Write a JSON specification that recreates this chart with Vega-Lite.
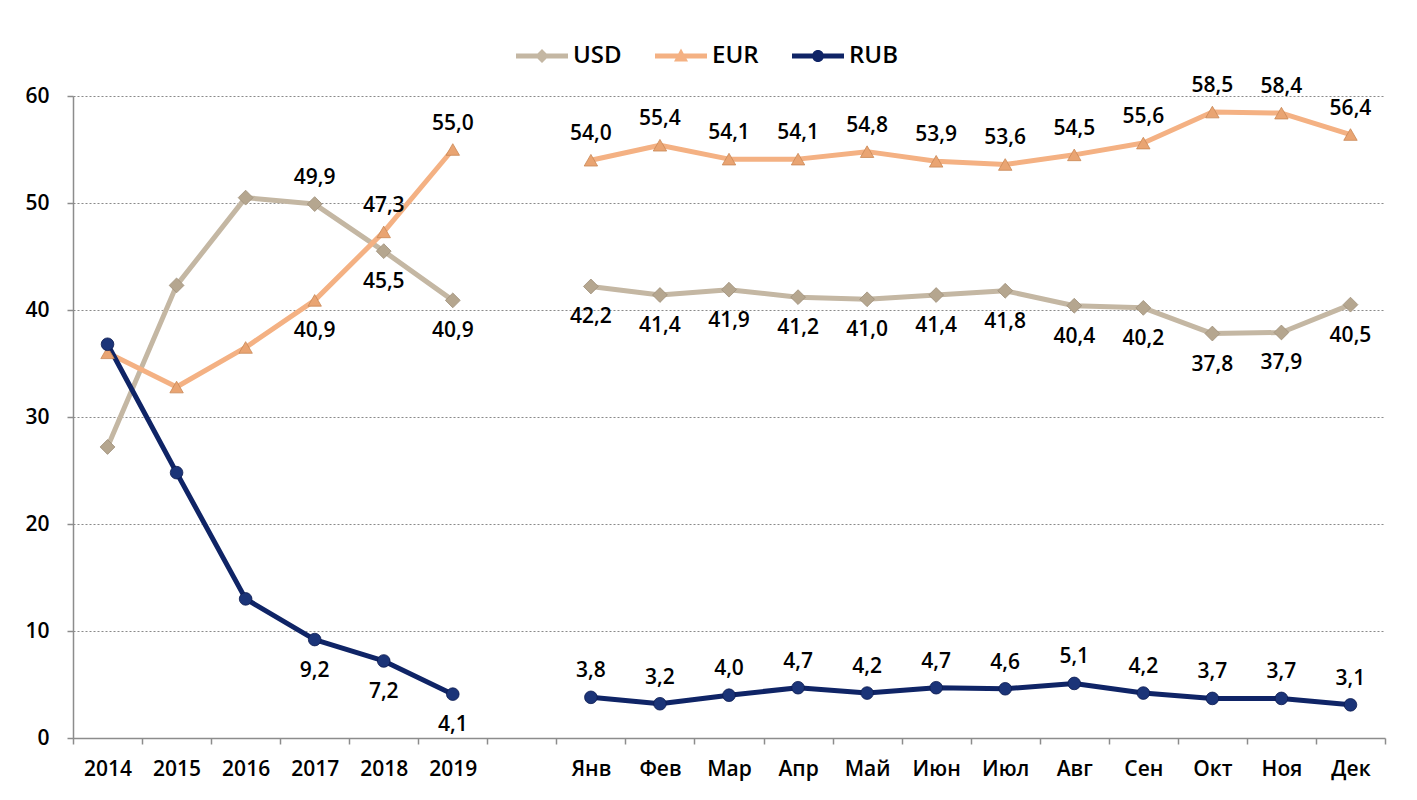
{
  "$schema": "https://vega.github.io/schema/vega-lite/v6.json",
  "width": 1312,
  "height": 642,
  "autosize": {"type": "none"},
  "padding": {"left": 73, "top": 96, "right": 32, "bottom": 62},
  "background": "white",
  "config": {
    "locale": {"number": {"decimal": ",", "thousands": " ", "grouping": [3], "currency": ["", ""]}},
    "view": {"stroke": null},
    "font": "Open Sans",
    "axis": {"labelFont": "Open Sans", "labelFontSize": 21, "labelFontWeight": 600, "labelColor": "#000000", "title": null},
    "legend": {"labelFont": "Open Sans", "labelFontSize": 24, "labelFontWeight": 600, "labelColor": "#000000"}
  },
  "data": {"values": [
    {"x": "2014", "p": "y", "s": "USD", "v": 27.2},
    {"x": "2015", "p": "y", "s": "USD", "v": 42.3},
    {"x": "2016", "p": "y", "s": "USD", "v": 50.5},
    {"x": "2017", "p": "y", "s": "USD", "v": 49.9},
    {"x": "2018", "p": "y", "s": "USD", "v": 45.5},
    {"x": "2019", "p": "y", "s": "USD", "v": 40.9},
    {"x": "2014", "p": "y", "s": "EUR", "v": 36.0},
    {"x": "2015", "p": "y", "s": "EUR", "v": 32.8},
    {"x": "2016", "p": "y", "s": "EUR", "v": 36.5},
    {"x": "2017", "p": "y", "s": "EUR", "v": 40.9},
    {"x": "2018", "p": "y", "s": "EUR", "v": 47.3},
    {"x": "2019", "p": "y", "s": "EUR", "v": 55.0},
    {"x": "2014", "p": "y", "s": "RUB", "v": 36.8},
    {"x": "2015", "p": "y", "s": "RUB", "v": 24.8},
    {"x": "2016", "p": "y", "s": "RUB", "v": 13.0},
    {"x": "2017", "p": "y", "s": "RUB", "v": 9.2},
    {"x": "2018", "p": "y", "s": "RUB", "v": 7.2},
    {"x": "2019", "p": "y", "s": "RUB", "v": 4.1},
    {"x": "Янв", "p": "m", "s": "USD", "v": 42.2},
    {"x": "Фев", "p": "m", "s": "USD", "v": 41.4},
    {"x": "Мар", "p": "m", "s": "USD", "v": 41.9},
    {"x": "Апр", "p": "m", "s": "USD", "v": 41.2},
    {"x": "Май", "p": "m", "s": "USD", "v": 41.0},
    {"x": "Июн", "p": "m", "s": "USD", "v": 41.4},
    {"x": "Июл", "p": "m", "s": "USD", "v": 41.8},
    {"x": "Авг", "p": "m", "s": "USD", "v": 40.4},
    {"x": "Сен", "p": "m", "s": "USD", "v": 40.2},
    {"x": "Окт", "p": "m", "s": "USD", "v": 37.8},
    {"x": "Ноя", "p": "m", "s": "USD", "v": 37.9},
    {"x": "Дек", "p": "m", "s": "USD", "v": 40.5},
    {"x": "Янв", "p": "m", "s": "EUR", "v": 54.0},
    {"x": "Фев", "p": "m", "s": "EUR", "v": 55.4},
    {"x": "Мар", "p": "m", "s": "EUR", "v": 54.1},
    {"x": "Апр", "p": "m", "s": "EUR", "v": 54.1},
    {"x": "Май", "p": "m", "s": "EUR", "v": 54.8},
    {"x": "Июн", "p": "m", "s": "EUR", "v": 53.9},
    {"x": "Июл", "p": "m", "s": "EUR", "v": 53.6},
    {"x": "Авг", "p": "m", "s": "EUR", "v": 54.5},
    {"x": "Сен", "p": "m", "s": "EUR", "v": 55.6},
    {"x": "Окт", "p": "m", "s": "EUR", "v": 58.5},
    {"x": "Ноя", "p": "m", "s": "EUR", "v": 58.4},
    {"x": "Дек", "p": "m", "s": "EUR", "v": 56.4},
    {"x": "Янв", "p": "m", "s": "RUB", "v": 3.8},
    {"x": "Фев", "p": "m", "s": "RUB", "v": 3.2},
    {"x": "Мар", "p": "m", "s": "RUB", "v": 4.0},
    {"x": "Апр", "p": "m", "s": "RUB", "v": 4.7},
    {"x": "Май", "p": "m", "s": "RUB", "v": 4.2},
    {"x": "Июн", "p": "m", "s": "RUB", "v": 4.7},
    {"x": "Июл", "p": "m", "s": "RUB", "v": 4.6},
    {"x": "Авг", "p": "m", "s": "RUB", "v": 5.1},
    {"x": "Сен", "p": "m", "s": "RUB", "v": 4.2},
    {"x": "Окт", "p": "m", "s": "RUB", "v": 3.7},
    {"x": "Ноя", "p": "m", "s": "RUB", "v": 3.7},
    {"x": "Дек", "p": "m", "s": "RUB", "v": 3.1}
  ]},
  "encoding": {
    "x": {
      "field": "x", "type": "nominal", "sort": null,
      "scale": {"type": "band", "paddingInner": 0, "paddingOuter": 0,
        "domain": ["2014", "2015", "2016", "2017", "2018", "2019", "gap", "Янв", "Фев", "Мар", "Апр", "Май", "Июн", "Июл", "Авг", "Сен", "Окт", "Ноя", "Дек"]},
      "axis": {
        "labelAngle": 0, "tickBand": "extent", "tickSize": 6, "tickColor": "#8c8c8c", "tickWidth": 1.5,
        "domainColor": "#8c8c8c", "domainWidth": 1.5, "labelPadding": 14, "grid": false,
        "labelExpr": "datum.value == 'gap' ? '' : datum.value"
      }
    },
    "y": {
      "field": "v", "type": "quantitative",
      "scale": {"domain": [0, 60], "nice": false},
      "axis": {
        "values": [0, 10, 20, 30, 40, 50, 60], "tickSize": 6, "tickColor": "#8c8c8c", "tickWidth": 1.5,
        "domainColor": "#8c8c8c", "domainWidth": 1.5, "labelPadding": 18,
        "grid": true, "gridColor": "#8a8a8a", "gridDash": [2, 2], "gridWidth": 1.2
      }
    }
  },
  "layer": [
    {
      "transform": [{"filter": "datum.s == 'USD'"}],
      "mark": {"type": "line", "strokeWidth": 5, "strokeJoin": "round", "color": "#C4B7A3"},
      "encoding": {"detail": {"field": "p"}}
    },
    {
      "transform": [{"filter": "datum.s == 'EUR'"}],
      "mark": {"type": "line", "strokeWidth": 5, "strokeJoin": "round", "color": "#F4B183"},
      "encoding": {"detail": {"field": "p"}}
    },
    {
      "transform": [{"filter": "datum.s == 'RUB'"}],
      "mark": {"type": "line", "strokeWidth": 5, "strokeJoin": "round", "color": "#0F2466"},
      "encoding": {"detail": {"field": "p"}}
    },
    {
      "transform": [{"filter": "datum.s == 'USD'"}],
      "mark": {"type": "point", "shape": "diamond", "filled": true, "size": 220, "color": "#B5A68F", "stroke": "#9E8F7A", "strokeWidth": 0.8, "opacity": 1}
    },
    {
      "transform": [{"filter": "datum.s == 'EUR'"}],
      "mark": {"type": "point", "shape": "triangle-up", "filled": true, "size": 180, "color": "#E9A472", "stroke": "#C98856", "strokeWidth": 0.8, "opacity": 1}
    },
    {
      "transform": [{"filter": "datum.s == 'RUB'"}],
      "mark": {"type": "point", "shape": "circle", "filled": true, "size": 160, "color": "#1B3478", "stroke": "#0B1A50", "strokeWidth": 0.8, "opacity": 1}
    },
    {
      "transform": [{"filter": "indexof(['2014','2015','2016'], datum.x) < 0 && ((datum.s == 'EUR' && (datum.p == 'm' || datum.x == '2018' || datum.x == '2019')) || (datum.s == 'USD' && datum.x == '2017') || (datum.s == 'RUB' && datum.p == 'm'))"}],
      "mark": {"type": "text", "baseline": "middle", "align": "center", "dy": -26, "fontSize": 21, "fontWeight": 600, "font": "Open Sans", "color": "#000000"},
      "encoding": {"text": {"field": "v", "type": "quantitative", "format": ".1f"}}
    },
    {
      "transform": [{"filter": "indexof(['2014','2015','2016'], datum.x) < 0 && ((datum.s == 'USD' && (datum.p == 'm' || datum.x == '2018' || datum.x == '2019')) || (datum.s == 'EUR' && datum.x == '2017') || (datum.s == 'RUB' && datum.p == 'y'))"}],
      "mark": {"type": "text", "baseline": "middle", "align": "center", "dy": 31, "fontSize": 21, "fontWeight": 600, "font": "Open Sans", "color": "#000000"},
      "encoding": {"text": {"field": "v", "type": "quantitative", "format": ".1f"}}
    },
    {
      "transform": [{"filter": "datum.x == '2014'"}],
      "mark": {"type": "point", "filled": true, "opacity": 0, "size": 100},
      "encoding": {
        "color": {"field": "s", "type": "nominal",
          "scale": {"domain": ["USD", "EUR", "RUB"], "range": ["#C4B7A3", "#F4B183", "#0F2466"]},
          "legend": {"orient": "none", "legendX": 457, "legendY": -52, "direction": "horizontal", "title": null, "symbolSize": 100, "labelOffset": 19, "columnPadding": 30, "symbolOpacity": 1}},
        "shape": {"field": "s", "type": "nominal",
          "scale": {"domain": ["USD", "EUR", "RUB"], "range": [
            "M-5.2,-0.5H5.2V0.5H-5.2Z M0,-1.4L1.4,0L0,1.4L-1.4,0Z",
            "M-5.2,-0.5H5.2V0.5H-5.2Z M0,-1.5L1.4,1.1H-1.4Z",
            "M-5.2,-0.5H5.2V0.5H-5.2Z M1.2,0A1.2,1.2 0 1,1 -1.2,0A1.2,1.2 0 1,1 1.2,0Z"
          ]},
          "legend": {"orient": "none", "legendX": 457, "legendY": -52, "direction": "horizontal", "title": null, "symbolSize": 100, "labelOffset": 19, "columnPadding": 30, "symbolOpacity": 1}}
      }
    }
  ]
}
